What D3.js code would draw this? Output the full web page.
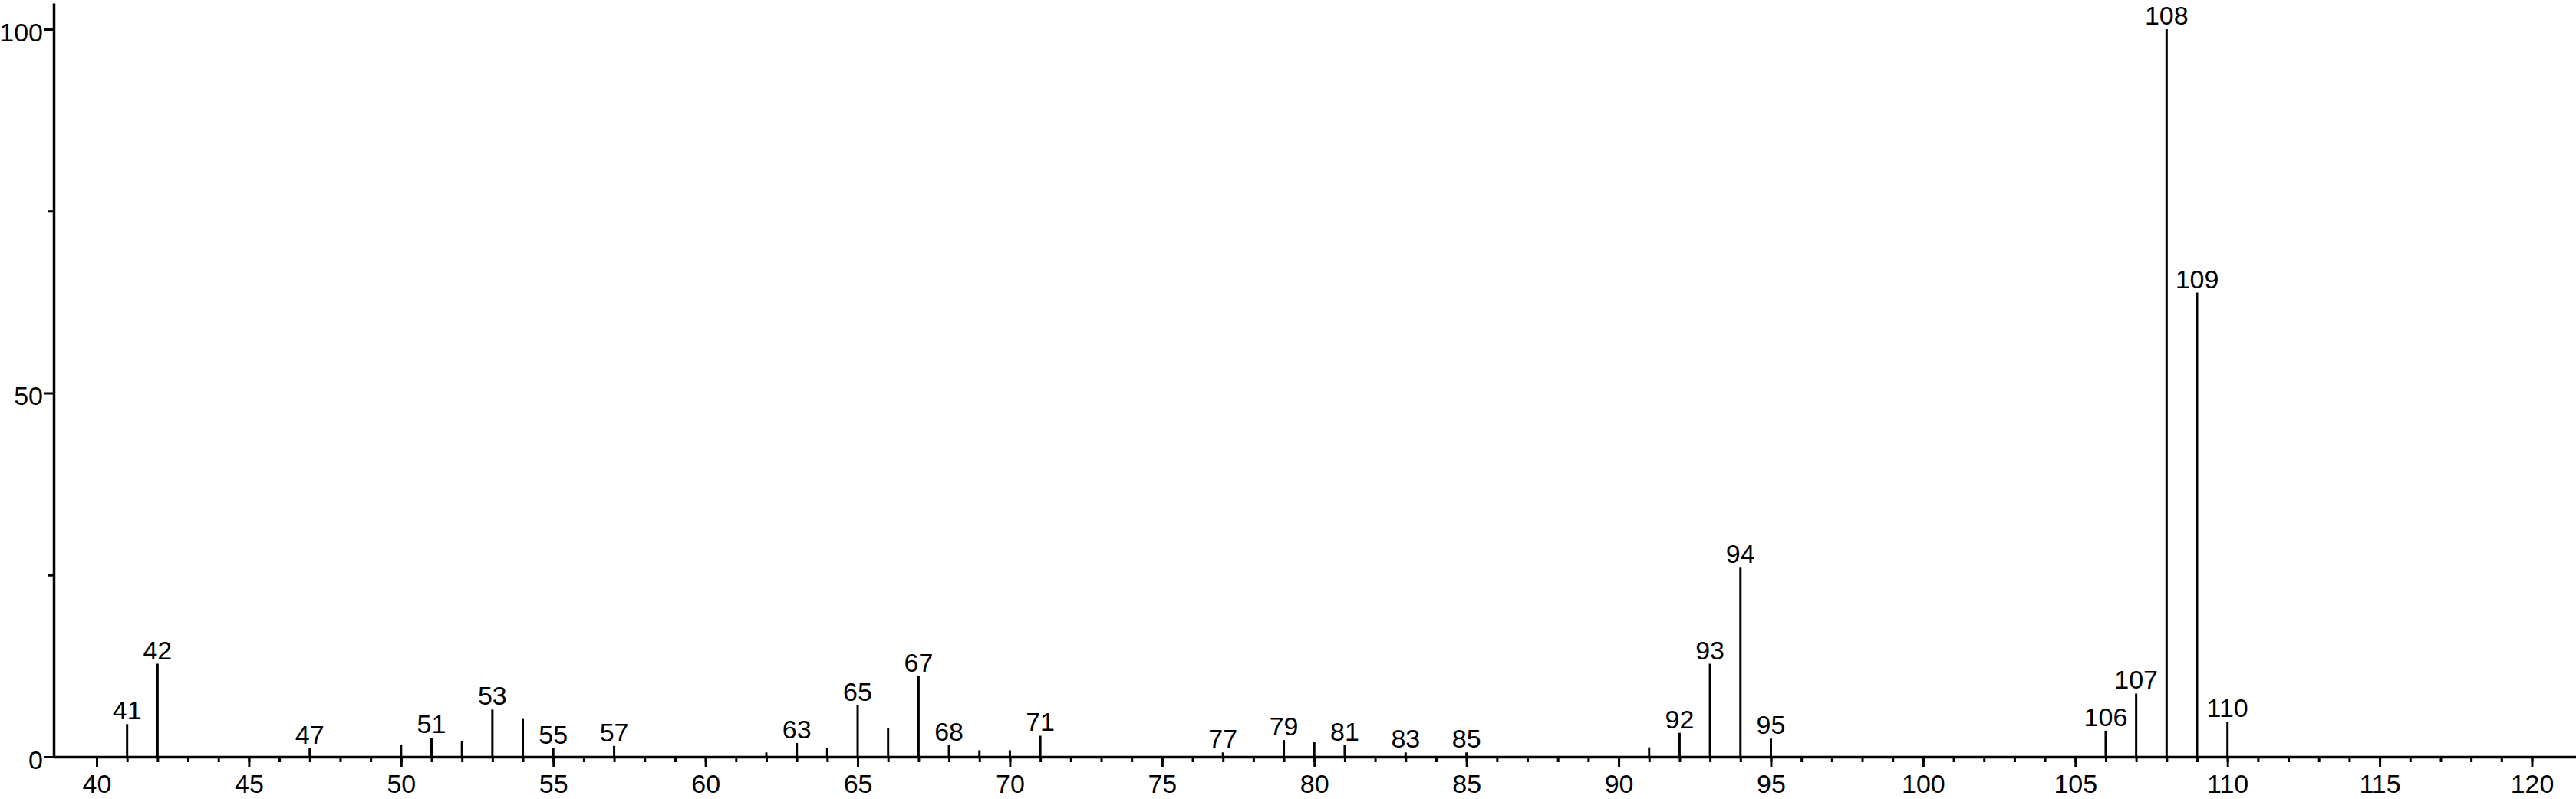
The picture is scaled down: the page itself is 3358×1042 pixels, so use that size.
<!DOCTYPE html>
<html>
<head>
<meta charset="utf-8">
<script src="https://cdn.jsdelivr.net/npm/d3@7"></script>
<style>
  body { margin: 0; background: #fff; }
  text { font-family: "Liberation Sans", Arial, Helvetica, sans-serif; }
</style>
</head>
<body>
<script>

// m/z values and relative intensity
var mz        = [41, 42, 47, 50, 51, 52, 53, 54, 55, 57, 62, 63, 64, 65, 66, 67, 68, 69, 70, 71,
                 77, 79, 80, 81, 83, 85, 91, 92, 93, 94, 95, 106, 107, 108, 109, 110]
var intensity = [4.5, 12.8, 1.2, 1.6, 2.6, 2.2, 6.5, 5.2, 1.2, 1.5, 0.6, 1.9, 1.2, 7.1, 3.9, 11.1, 1.6, 0.9, 0.9, 2.9,
                 0.6, 2.3, 2.0, 1.6, 0.6, 0.6, 1.3, 3.3, 12.8, 26.0, 2.5, 3.6, 8.7, 100, 63.8, 4.8]
// peaks that carry a label
var labeled   = [41, 42, 47, 51, 53, 55, 57, 63, 65, 67, 68, 71, 77, 79, 81, 83, 85,
                 92, 93, 94, 95, 106, 107, 108, 109, 110]
var xTicks      = [40, 45, 50, 55, 60, 65, 70, 75, 80, 85, 90, 95, 100, 105, 110, 115, 120]
var xMinorTicks = d3.range(40, 121)
var yTicks      = [0, 50, 100]
var yMinorTicks = [25, 75]

var dataObj = mz.map(function(m, i) { return {mz: m, val: intensity[i]} })

var W = 3358, H = 1042
var plotLeft = 70, plotRight = 3358, base = 987, plotTop = 4
var fontSize = 34

var svg = d3.select("body").append("svg")
    .attr("width", W)
    .attr("height", H)

// scales
var x = d3.scaleLinear().domain([40, 120]).range([126, 3300.5])
var y = d3.scaleLinear().domain([0, 100]).range([base, 38])

var xFull = x.copy().domain([x.invert(plotLeft), x.invert(plotRight)]).range([plotLeft, plotRight])
var yFull = y.copy().domain([0, y.invert(plotTop)]).range([base, plotTop])

// minor x ticks
svg.append("g")
    .attr("transform", "translate(0," + base + ")")
    .call(d3.axisBottom(xFull).tickValues(xMinorTicks).tickSize(7).tickSizeOuter(0).tickFormat(""))
    .call(function(g) { g.select(".domain").remove() })
    .selectAll("line").attr("stroke-width", 3)

// major x axis
var gx = svg.append("g")
    .attr("transform", "translate(0," + base + ")")
    .call(d3.axisBottom(xFull).tickValues(xTicks).tickSize(13).tickPadding(10).tickSizeOuter(0))
gx.select(".domain").attr("stroke-width", 3.5)
gx.selectAll("line").attr("stroke-width", 3)
gx.selectAll("text")
    .attr("font-size", fontSize)
    .attr("font-family", "Liberation Sans, Arial, sans-serif")
    .attr("fill", "#000")

// minor y ticks
svg.append("g")
    .attr("transform", "translate(" + plotLeft + ",0)")
    .call(d3.axisLeft(yFull).tickValues(yMinorTicks).tickSize(7).tickSizeOuter(0).tickFormat(""))
    .call(function(g) { g.select(".domain").remove() })
    .selectAll("line").attr("stroke-width", 3)

// major y axis
var gy = svg.append("g")
    .attr("transform", "translate(" + plotLeft + ",0)")
    .call(d3.axisLeft(yFull).tickValues(yTicks).tickSize(12).tickPadding(2).tickSizeOuter(0))
gy.select(".domain").attr("stroke-width", 3.5)
gy.selectAll("line").attr("stroke-width", 3)
gy.selectAll("text")
    .attr("font-size", fontSize)
    .attr("font-family", "Liberation Sans, Arial, sans-serif")
    .attr("fill", "#000")
    .attr("dy", "0.45em")

// stems
svg.selectAll(".stem")
    .data(dataObj)
    .enter().append("line")
        .attr("class", "stem")
        .attr("x1", function(d) { return x(d.mz) })
        .attr("x2", function(d) { return x(d.mz) })
        .attr("y1", base)
        .attr("y2", function(d) { return y(d.val) })
        .attr("stroke", "#000")
        .attr("stroke-width", 3)

// peak labels
svg.selectAll(".peak")
    .data(dataObj.filter(function(d) { return labeled.indexOf(d.mz) >= 0 }))
    .enter().append("text")
        .attr("class", "peak")
        .text(function(d) { return d.mz })
        .attr("x", function(d) { return x(d.mz) })
        .attr("y", function(d) { return y(d.val) - 6 })
        .attr("text-anchor", "middle")
        .attr("font-size", fontSize)
        .attr("fill", "#000")

</script>
</body>
</html>
